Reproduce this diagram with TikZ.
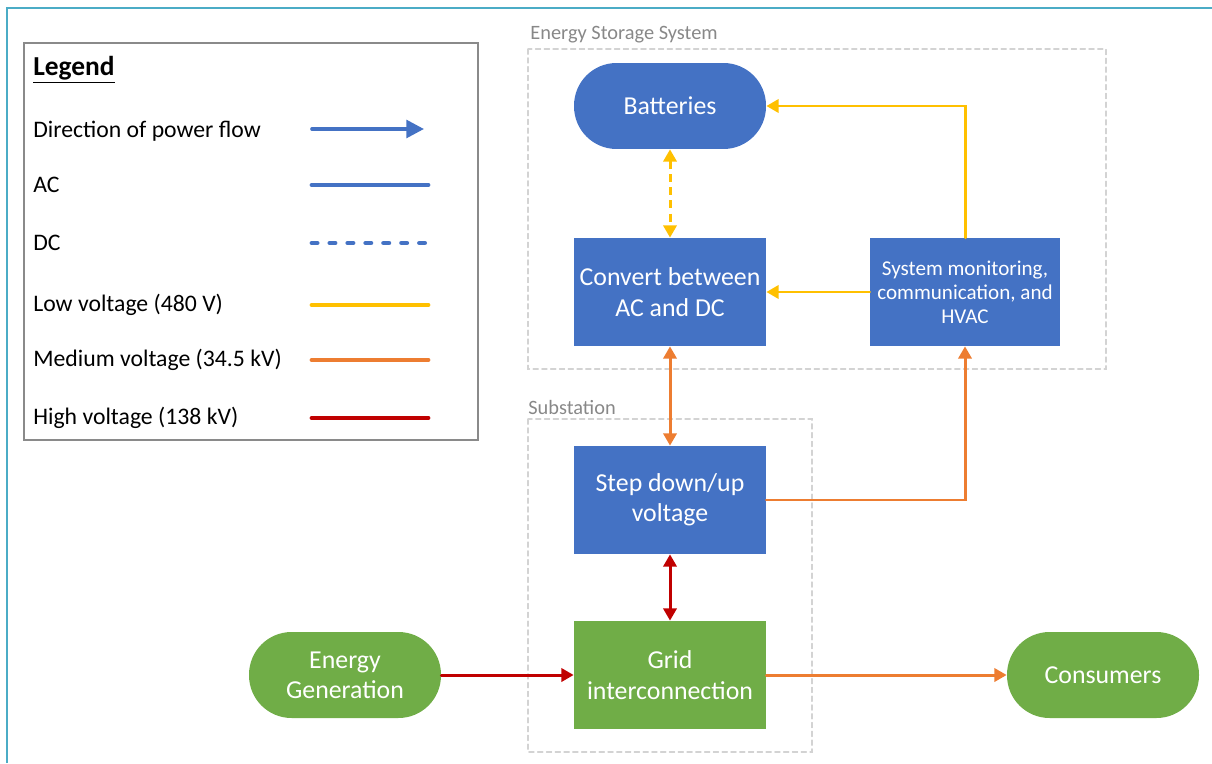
\documentclass[tikz,border=0pt]{standalone}
\usepackage{fontspec}
\setmainfont{Carlito}
\usetikzlibrary{arrows.meta,calc}
\definecolor{frameteal}{HTML}{4BACC6}
\definecolor{boxblue}{HTML}{4472C4}
\definecolor{boxgreen}{HTML}{70AD47}
\definecolor{lowv}{HTML}{FFC000}
\definecolor{medv}{HTML}{ED7D31}
\definecolor{highv}{HTML}{C00000}
\definecolor{grouptext}{HTML}{888888}
\definecolor{groupline}{HTML}{D3D3D3}
\definecolor{legframe}{HTML}{8A8A8A}
% one legend row: y, label, line style
\newcommand{\legrow}[3]{%
  \node[legtext] at (33,#1) {#2};
  \draw[#3] (312,#1) -- (428,#1);}

\begin{document}
\begin{tikzpicture}[x=0.02cm, y=-0.02cm, line cap=round,
  >={Triangle[length=7pt,width=7.5pt]},
  block/.style={fill=boxblue, text=white, minimum width=3.84cm, minimum height=2.16cm,
    inner sep=2pt, align=center, font=\fontsize{14.7}{17.3}\selectfont},
  pill/.style={block, minimum height=1.72cm, rounded corners=0.85cm},
  lowline/.style={lowv, line width=1.7pt},
  medline/.style={medv, line width=1.7pt},
  highline/.style={highv, line width=1.7pt},
  groupbox/.style={groupline, line width=0.6pt, dash pattern=on 3pt off 2pt},
  grouplabel/.style={anchor=west, inner sep=0pt, text=grouptext, font=\fontsize{11.6}{14}\selectfont},
  legtext/.style={anchor=west, inner sep=0pt, font=\fontsize{13.5}{16}\selectfont},
  legline/.style={line width=2.8pt}]
\useasboundingbox (0,0) rectangle (1212,763);

% ================= frame and legend =================
\draw[frameteal, line width=1.6pt, line cap=butt] (7,763) -- (7,8) -- (1212,8);
\draw[legframe, line width=0.6pt] (24,43) rectangle (478,440);
\node[legtext, font=\fontsize{15.6}{18}\selectfont\bfseries] at (33,70) {\underline{Legend}};
\node[legtext] at (33,131) {Direction of power flow};
\draw[->, boxblue, line width=2.1pt, >={Triangle[length=10pt,width=10pt]}] (312,129) -- (424,129);
\legrow{185}{AC}{legline, boxblue}
\legrow{243}{DC}{legline, boxblue, dash pattern=on 2.9pt off 7.3pt}
\legrow{305}{Low voltage (480 V)}{legline, lowv}
\legrow{360}{Medium voltage (34.5 kV)}{legline, medv}
\legrow{418}{High voltage (138 kV)}{legline, highv}

% ================= groups =================
\draw[groupbox] (528,49) rectangle (1106,369);
\node[grouplabel] at (530,35) {Energy Storage System};
\draw[groupbox] (528,419) rectangle (812,752);
\node[grouplabel] at (528,407) {Substation};

% ================= blocks =================
\node[pill] (bat) at (670,106) {Batteries};
\node[block] (conv) at (670,292) {Convert between\\AC and DC};
\node[block, minimum width=3.8cm, font=\fontsize{12}{13.7}\selectfont] (mon) at (965,292) {System monitoring,\\communication, and\\HVAC};
\node[block] (step) at (670,500) {Step down/up\\voltage};
\node[block, fill=boxgreen] (grid) at (670,675) {Grid\\interconnection};
\node[pill, fill=boxgreen] (gen) at (345,675) {Energy\\Generation};
\node[pill, fill=boxgreen] (cons) at (1103,675) {Consumers};

% ================= connectors =================
\draw[<->, lowline, line cap=butt, dash pattern=on 4.5pt off 3pt] (bat) -- (conv);
\draw[->, lowline] (mon.north) |- (bat.east);
\draw[->, lowline] (mon.west) -- (conv.east);
\draw[<->, medline] (conv) -- (step);
\draw[->, medline] (step.east) -| (mon.south);
\draw[<->, highline] (step) -- (grid);
\draw[->, highline] (gen) -- (grid);
\draw[->, medline] (grid) -- (cons);

\end{tikzpicture}
\end{document}
